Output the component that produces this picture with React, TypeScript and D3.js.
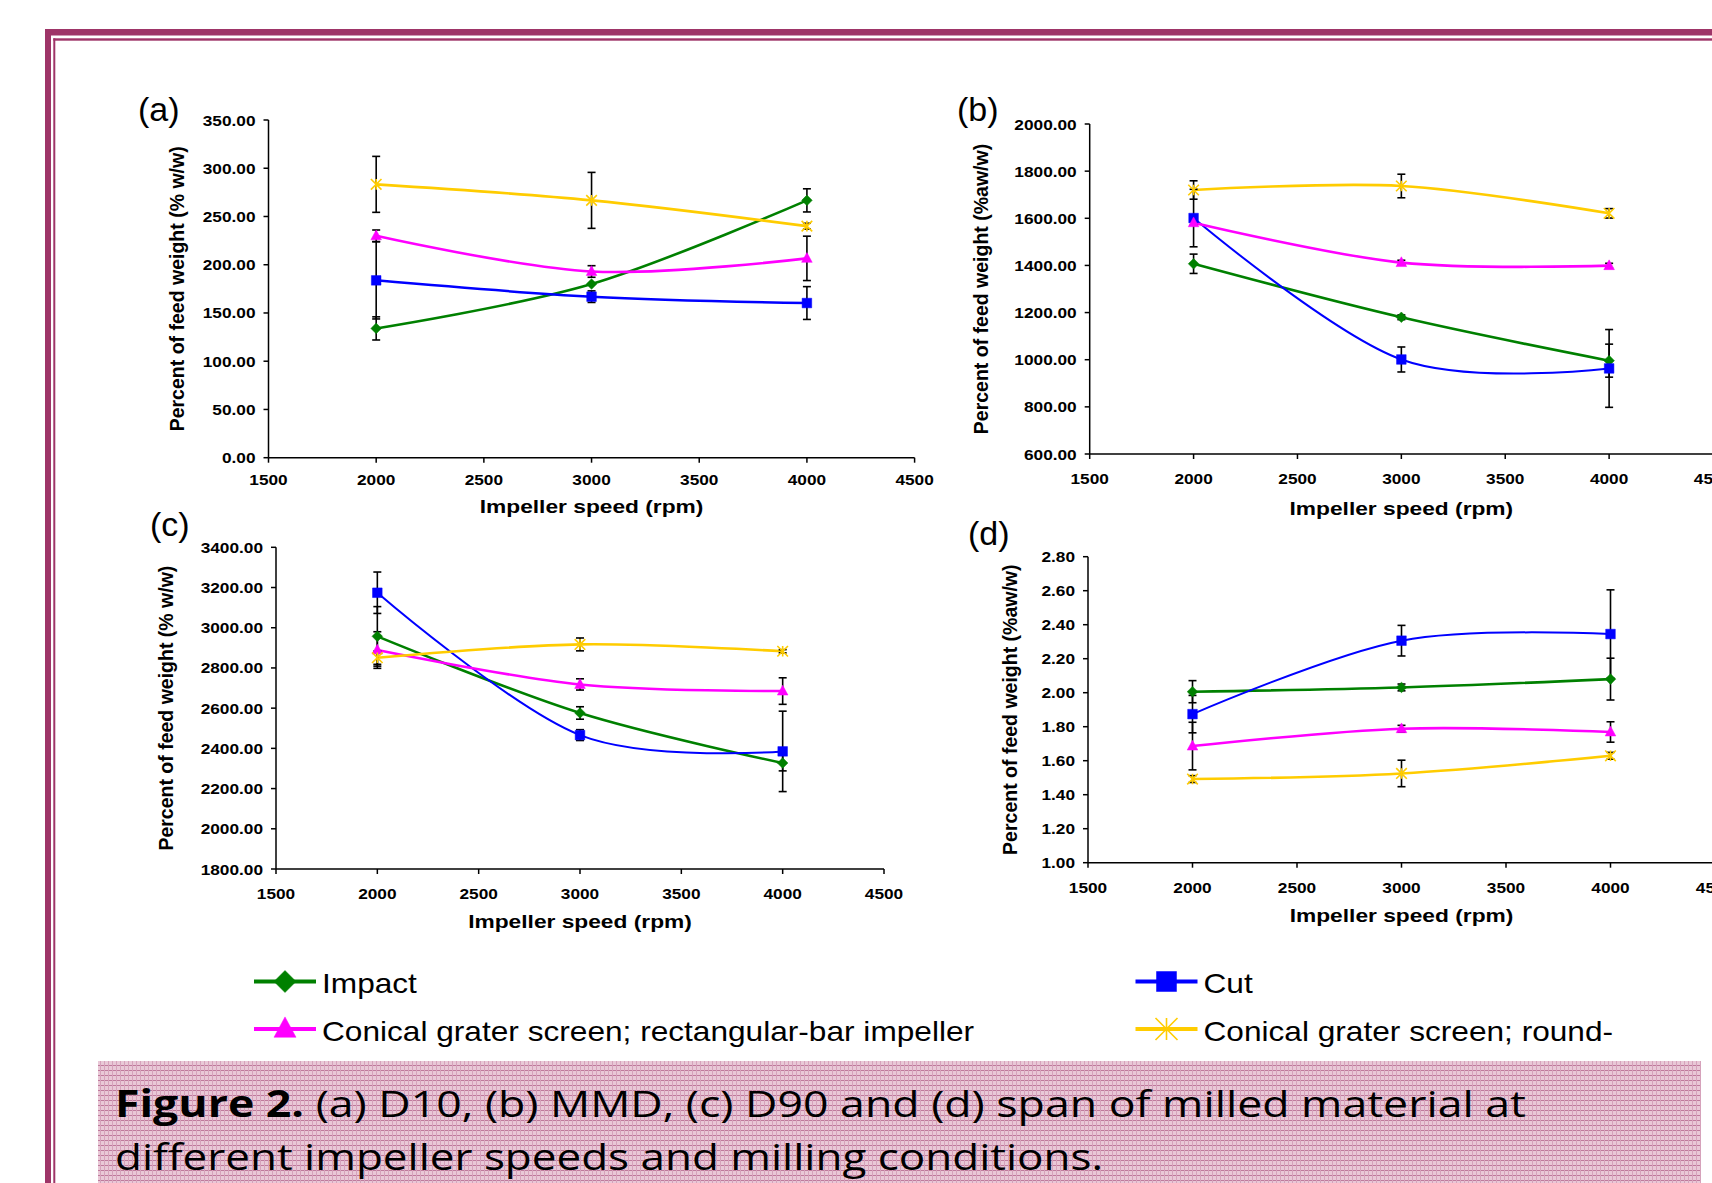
import React from 'react';
import * as d3 from 'd3';

// impeller speeds (rpm) shared by every panel
const speeds = [2000, 3000, 4000];
const xTicks = [1500, 2000, 2500, 3000, 3500, 4000, 4500];

const seriesNames = [
  'Impact',
  'Cut',
  'Conical grater screen; rectangular-bar impeller',
  'Conical grater screen; round-',
];
const seriesColors = ['#008000', '#0000FF', '#FF00FF', '#FFCC00'];
const seriesMarkers = ['diamond', 'square', 'triangle', 'star'];

// (a) D10
const d10Impact = [134, 180, 266.7];
const d10Cut = [183.8, 166.9, 160.3];
const d10Rect = [230, 193, 206.6];
const d10Round = [283.3, 266.7, 240];
const d10ImpactErr = [12, 0, 12];
const d10CutErr = [40, 6, 17];
const d10RectErr = [6, 6, 23];
const d10RoundErr = [29, 29, 3];

// (b) MMD
const mmdImpact = [1407, 1180, 996];
const mmdCut = [1601, 1001, 963];
const mmdRect = [1581, 1412, 1399];
const mmdRound = [1720, 1737, 1621];
const mmdImpactErr = [41, 10, 70];
const mmdCutErr = [122, 53, 165];
const mmdRectErr = [10, 10, 10];
const mmdRoundErr = [39, 50, 20];

// (c) D90
const d90Impact = [2957, 2576, 2327];
const d90Cut = [3174, 2466, 2385];
const d90Rect = [2889, 2718, 2685];
const d90Round = [2851, 2917, 2883];
const d90ImpactErr = [148, 31, 39];
const d90CutErr = [103, 27, 200];
const d90RectErr = [91, 28, 66];
const d90RoundErr = [33, 32, 8];

// (d) span
const spanImpact = [2.006, 2.031, 2.08];
const spanCut = [1.874, 2.306, 2.345];
const spanRect = [1.686, 1.788, 1.769];
const spanRound = [1.492, 1.525, 1.629];
const spanImpactErr = [0.065, 0.02, 0.123];
const spanCutErr = [0.11, 0.09, 0.26];
const spanRectErr = [0.14, 0.02, 0.06];
const spanRoundErr = [0.02, 0.078, 0.02];

const panels = [
  {
    label: '(a)', yTitle: 'Percent of feed weight (% w/w)',
    values: [d10Impact, d10Cut, d10Rect, d10Round],
    errs: [d10ImpactErr, d10CutErr, d10RectErr, d10RoundErr],
    yDomain: [0, 350], yStep: 50,
    x0: 268.5, x1: 914.6, yTop: 120, yBot: 457.7,
    labelPos: [138, 121], yTitleX: 184, xTitleY: 513, xTickDy: 27, cutWidth: 2.5,
  },
  {
    label: '(b)', yTitle: 'Percent of feed weight (%aw/w)',
    values: [mmdImpact, mmdCut, mmdRect, mmdRound],
    errs: [mmdImpactErr, mmdCutErr, mmdRectErr, mmdRoundErr],
    yDomain: [600, 2000], yStep: 200,
    x0: 1089.7, x1: 1713, yTop: 124, yBot: 454,
    labelPos: [957, 121], yTitleX: 988, xTitleY: 515, xTickDy: 30, cutWidth: 2,
  },
  {
    label: '(c)', yTitle: 'Percent of feed weight (% w/w)',
    values: [d90Impact, d90Cut, d90Rect, d90Round],
    errs: [d90ImpactErr, d90CutErr, d90RectErr, d90RoundErr],
    yDomain: [1800, 3400], yStep: 200,
    x0: 276, x1: 884, yTop: 547.3, yBot: 869,
    labelPos: [150, 536], yTitleX: 173, xTitleY: 928, xTickDy: 30, cutWidth: 2,
  },
  {
    label: '(d)', yTitle: 'Percent of feed weight (%aw/w)',
    values: [spanImpact, spanCut, spanRect, spanRound],
    errs: [spanImpactErr, spanCutErr, spanRectErr, spanRoundErr],
    yDomain: [1, 2.8], yStep: 0.2,
    x0: 1088, x1: 1715, yTop: 556.7, yBot: 862.7,
    labelPos: [968, 545], yTitleX: 1017, xTitleY: 922, xTickDy: 30, cutWidth: 2,
  },
];

const FONT = 'Liberation Sans, Arial, sans-serif';
const FRAME = '#9E3568';

function markerPath(kind: string, s: number) {
  if (kind === 'diamond') return `M0,${-s}L${s},0L0,${s}L${-s},0Z`;
  if (kind === 'square') return `M${-s},${-s}H${s}V${s}H${-s}Z`;
  if (kind === 'triangle') return `M0,${-s * 1.1}L${s},${s * 0.75}L${-s},${s * 0.75}Z`;
  return `M${-s},${-s}L${s},${s}M${-s},${s}L${s},${-s}M0,${-s}V${s}`;
}

function Marker({ kind, color, x, y, s }: any) {
  const star = kind === 'star';
  return (
    <path
      transform={`translate(${x},${y})`}
      d={markerPath(kind, s)}
      fill={star ? 'none' : color}
      stroke={color}
      strokeWidth={star ? 1.6 : 0.5}
    />
  );
}

function Panel({ p }: any) {
  const x = d3.scaleLinear().domain([1500, 4500]).range([p.x0, p.x1]);
  const y = d3.scaleLinear().domain(p.yDomain).range([p.yBot, p.yTop]);
  const yTicks = d3.range(p.yDomain[0], p.yDomain[1] + p.yStep / 2, p.yStep);
  const fmt = d3.format('.2f');
  const line = d3
    .line<[number, number]>()
    .x((d) => x(d[0]))
    .y((d) => y(d[1]))
    .curve(d3.curveCardinal.tension(0));
  const cx = (p.x0 + p.x1) / 2;
  const cy = (p.yTop + p.yBot) / 2;

  return (
    <g>
      <text x={p.labelPos[0]} y={p.labelPos[1]} fontFamily={FONT} fontSize={34} fill="#000">
        {p.label}
      </text>
      {/* axes */}
      <line x1={p.x0} x2={p.x0} y1={p.yTop} y2={p.yBot} stroke="#000" strokeWidth={1.5} />
      <line x1={p.x0} x2={p.x1} y1={p.yBot} y2={p.yBot} stroke="#000" strokeWidth={1.5} />
      {yTicks.map((t: number) => (
        <g key={'y' + t}>
          <line x1={p.x0 - 5} x2={p.x0} y1={y(t)} y2={y(t)} stroke="#000" strokeWidth={1.5} />
          <text
            transform={`translate(${p.x0 - 13},${y(t) + 5.5}) scale(1.15,1)`}
            textAnchor="end"
            fontFamily={FONT}
            fontWeight="bold"
            fontSize={15}
          >
            {fmt(t)}
          </text>
        </g>
      ))}
      {xTicks.map((t) => (
        <g key={'x' + t}>
          <line x1={x(t)} x2={x(t)} y1={p.yBot} y2={p.yBot + 5} stroke="#000" strokeWidth={1.5} />
          <text
            transform={`translate(${x(t)},${p.yBot + p.xTickDy}) scale(1.15,1)`}
            textAnchor="middle"
            fontFamily={FONT}
            fontWeight="bold"
            fontSize={15}
          >
            {t}
          </text>
        </g>
      ))}
      <text
        transform={`translate(${cx},${p.xTitleY}) scale(1.3,1)`}
        textAnchor="middle"
        fontFamily={FONT}
        fontWeight="bold"
        fontSize={17.5}
      >
        Impeller speed (rpm)
      </text>
      <text
        transform={`translate(${p.yTitleX},${cy}) rotate(-90)`}
        textAnchor="middle"
        fontFamily={FONT}
        fontWeight="bold"
        fontSize={19.5}
      >
        {p.yTitle}
      </text>
      {/* series lines */}
      {p.values.map((vals: number[], i: number) => (
        <path
          key={'l' + i}
          d={line(speeds.map((s, j) => [s, vals[j]] as [number, number])) || ''}
          fill="none"
          stroke={seriesColors[i]}
          strokeWidth={i === 1 ? p.cutWidth : 2.6}
        />
      ))}
      {/* error bars */}
      {p.values.map((vals: number[], i: number) =>
        speeds.map((s, j) => {
          const e = p.errs[i][j];
          if (!e) return null;
          const xx = x(s);
          const top = y(vals[j] + e);
          const bot = y(vals[j] - e);
          return (
            <g key={'e' + i + '-' + j} stroke="#000" strokeWidth={1.6}>
              <line x1={xx} x2={xx} y1={top} y2={bot} />
              <line x1={xx - 4} x2={xx + 4} y1={top} y2={top} />
              <line x1={xx - 4} x2={xx + 4} y1={bot} y2={bot} />
            </g>
          );
        })
      )}
      {/* markers */}
      {p.values.map((vals: number[], i: number) =>
        speeds.map((s, j) => (
          <Marker
            key={'m' + i + '-' + j}
            kind={seriesMarkers[i]}
            color={seriesColors[i]}
            x={x(s)}
            y={y(vals[j])}
            s={seriesMarkers[i] === 'square' ? 4.8 : 5.3}
          />
        ))
      )}
    </g>
  );
}

const legendRows = [
  { x: 254, y: 981.5 },
  { x: 1135.5, y: 981.5 },
  { x: 254, y: 1029 },
  { x: 1135.5, y: 1029 },
];

export default function App() {
  return (
    <div>
      <style>{'body{margin:0;overflow:hidden}'}</style>
      <svg width={1712} height={1183} style={{ display: 'block' }}>
        <defs>
          <pattern id="hatch" width={4} height={5} patternUnits="userSpaceOnUse">
            <rect width={4} height={5} fill="#E9C8D7" />
            <rect width={4} height={1} y={0} fill="#BF7A9C" />
            <rect width={1} height={5} x={0} fill="#D6A2BB" />
          </pattern>
        </defs>
        <rect width={1712} height={1183} fill="#fff" />
        {/* page frame */}
        <rect x={45} y={29} width={1712 - 45} height={6.5} fill={FRAME} />
        <rect x={45} y={29} width={6} height={1183 - 29} fill={FRAME} />
        <rect x={53.3} y={38.3} width={1712 - 53.3} height={2.4} fill={FRAME} />
        <rect x={53.3} y={38.3} width={2} height={1183 - 38.3} fill={FRAME} />

        {panels.map((p) => (
          <Panel key={p.label} p={p} />
        ))}

        {/* legend */}
        {seriesNames.map((name, i) => {
          const r = legendRows[i];
          return (
            <g key={name}>
              <line x1={r.x} x2={r.x + 62} y1={r.y} y2={r.y} stroke={seriesColors[i]} strokeWidth={4} />
              <Marker kind={seriesMarkers[i]} color={seriesColors[i]} x={r.x + 31} y={r.y} s={i === 1 ? 10 : 11} />
              <text
                transform={`translate(${r.x + 68},${r.y + 11.5}) scale(1.13,1)`}
                fontFamily={FONT}
                fontSize={28}
              >
                {name}
              </text>
            </g>
          );
        })}

        {/* caption */}
        <rect x={98} y={1061} width={1603} height={130} fill="url(#hatch)" />
        <text
          x={115}
          y={1117}
          fontFamily="Open Sans, Noto Sans, sans-serif"
          fontSize={37}
          textLength={1411}
          lengthAdjust="spacingAndGlyphs"
        >
          <tspan fontWeight="bold">Figure 2.</tspan>
          <tspan> (a) D10, (b) MMD, (c) D90 and (d) span of milled material at</tspan>
        </text>
        <text
          x={115}
          y={1170}
          fontFamily="Open Sans, Noto Sans, sans-serif"
          fontSize={37}
          textLength={988}
          lengthAdjust="spacingAndGlyphs"
        >
          different impeller speeds and milling conditions.
        </text>
      </svg>
    </div>
  );
}
